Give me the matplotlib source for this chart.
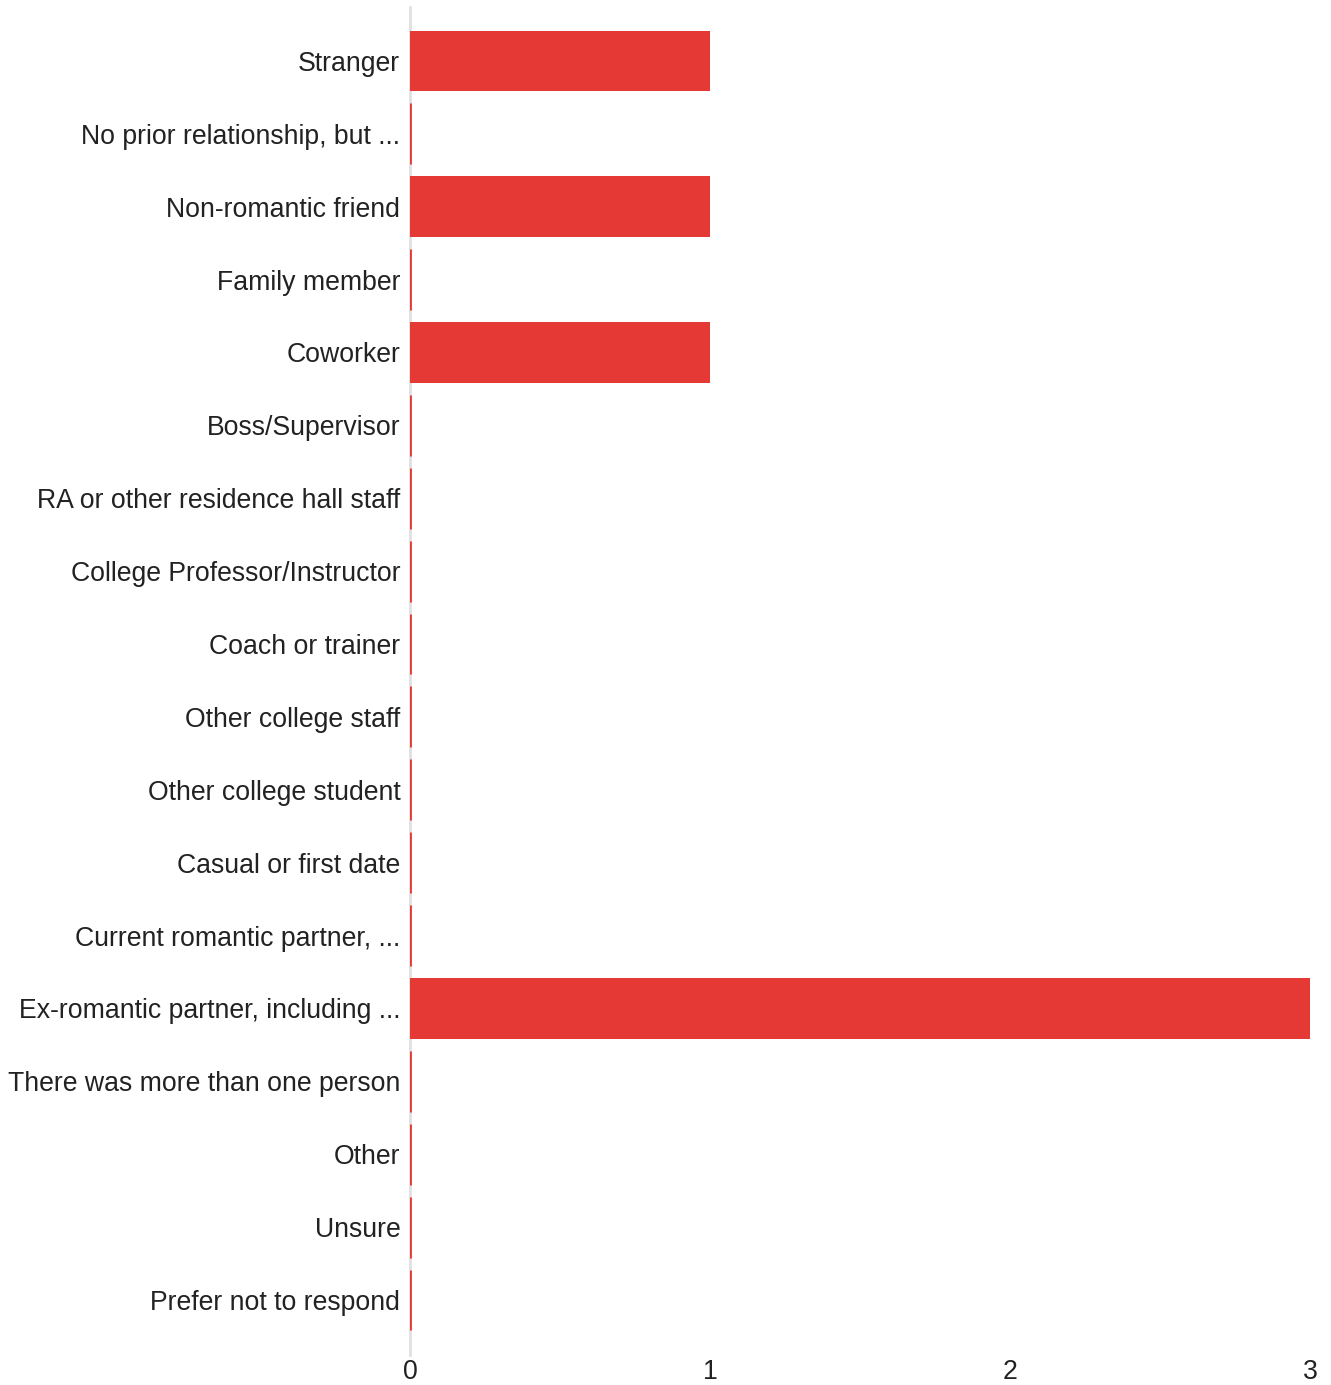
import numpy as np
import matplotlib.pyplot as plt

plt.rcParams['font.family'] = ['Liberation Sans', 'DejaVu Sans']

categories = [
    'Stranger',
    'No prior relationship, but ...',
    'Non-romantic friend',
    'Family member',
    'Coworker',
    'Boss/Supervisor',
    'RA or other residence hall staff',
    'College Professor/Instructor',
    'Coach or trainer',
    'Other college staff',
    'Other college student',
    'Casual or first date',
    'Current romantic partner, ...',
    'Ex-romantic partner, including ...',
    'There was more than one person',
    'Other',
    'Unsure',
    'Prefer not to respond',
]
counts = [1, 0, 1, 0, 1, 0, 0, 0, 0, 0, 0, 0, 0, 3, 0, 0, 0, 0]
xticks = [0, 1, 2, 3]

bar_color = '#e53935'

fig = plt.figure(figsize=(13.31, 13.85), dpi=100)
ax = fig.add_axes([410 / 1331, 1 - 1355 / 1385, 900 / 1331, 1348 / 1385])

y = np.arange(len(categories))
lw = [2.0 if v == 0 else 0 for v in counts]
ax.barh(y, counts, height=0.835, color=bar_color, edgecolor=bar_color,
        linewidth=lw, zorder=3)

ax.set_xlim(0, 3)
ax.set_ylim(17.755, -0.74)
ax.set_yticks(y)
ax.set_yticklabels(categories, fontsize=19.2, color='#222222')
ax.set_xticks(xticks)
ax.set_xticklabels([str(t) for t in xticks], fontsize=19.2, color='#222222')
ax.tick_params(axis='both', length=0)
ax.tick_params(axis='y', pad=7)
ax.tick_params(axis='x', pad=3)

for s in ['top', 'right', 'bottom']:
    ax.spines[s].set_visible(False)
ax.spines['left'].set_color('#e0e0e0')
ax.spines['left'].set_linewidth(2)

fig.savefig('out.png', dpi=100)
